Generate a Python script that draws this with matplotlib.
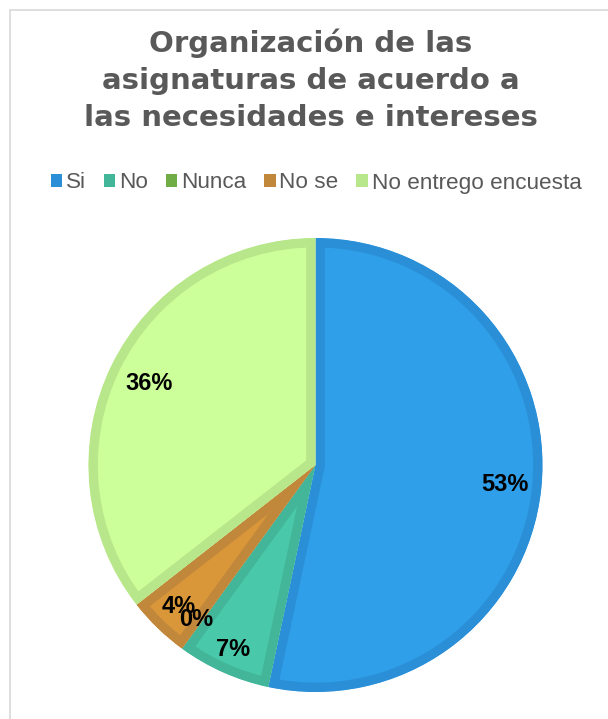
import numpy as np
import matplotlib.pyplot as plt
from matplotlib.patches import Patch, Rectangle

# datos de la encuesta
categorias = ['Si', 'No', 'Nunca', 'No se', 'No entrego encuesta']
valores = [24, 3, 0, 2, 16]
colores = ['#2E9FE8', '#49C9AA', '#70AD47', '#D9973A', '#CCFF99']
bordes = ['#2B8FD8', '#43B598', '#66A040', '#C1873A', '#B8E68A']
leyenda_col = ['#2B8FD8', '#43B598', '#70AD47', '#C1873A', '#B8E68A']
titulo = ['Organización de las', 'asignaturas de acuerdo a', 'las necesidades e intereses']

plt.rcParams['font.family'] = ['Liberation Sans', 'DejaVu Sans']

W, H = 608, 719
fig = plt.figure(figsize=(W / 100, H / 100), dpi=100)
ax = fig.add_axes([0, 0, 1, 1])

# marco del grafico
ax.add_patch(Rectangle((10, -20), W + 20, H - 10 + 20, fill=False,
                       edgecolor='#D9D9D9', linewidth=1.2))

cx, cy, R = 315.5, H - 465, 227
wedges, textos, pcts = ax.pie(
    valores, center=(cx, cy), radius=R, startangle=90,
    counterclock=False, colors=colores, explode=[0.019] * 5,
    autopct=lambda p: '%.0f%%' % p,
    textprops=dict(fontsize=17, fontweight='bold', color='black'),
    wedgeprops=dict(linewidth=13.5), frame=True)
ax.set_xlim(0, W)
ax.set_ylim(0, H)
ax.set_aspect('equal')
ax.axis('off')

# borde interior mas oscuro (se recorta al propio sector)
for w, b in zip(wedges, bordes):
    w.set_edgecolor(b)
    w.set_clip_on(True)
    w.set_clip_path(w)

# posicion de las etiquetas como en el original
dist = [0.84, 0.89, 0.86, 0.865, 0.815]
desv = [0, 0, 1.5, 0, 0]
for w, t, d, e in zip(wedges, pcts, dist, desv):
    ang = np.deg2rad((w.theta1 + w.theta2) / 2 - e)
    t.set_position((cx + d * R * np.cos(ang), cy + d * R * np.sin(ang)))

for linea, yb in zip(titulo, [52, 89, 126]):
    fig.text(311 / W, 1 - yb / H, linea, ha='center', va='baseline',
             fontsize=21, fontweight='bold', color='#595959', family='DejaVu Sans')

handles = [Patch(facecolor=c, edgecolor='none') for c in leyenda_col]
fig.legend(handles, categorias, loc='center', bbox_to_anchor=(316 / W, 1 - 183 / H),
           ncol=5, frameon=False, fontsize=16.2, handlelength=0.52, handleheight=0.52,
           handletextpad=0.15, columnspacing=0.8, labelcolor='#595959')

fig.savefig('out.png', dpi=100)
